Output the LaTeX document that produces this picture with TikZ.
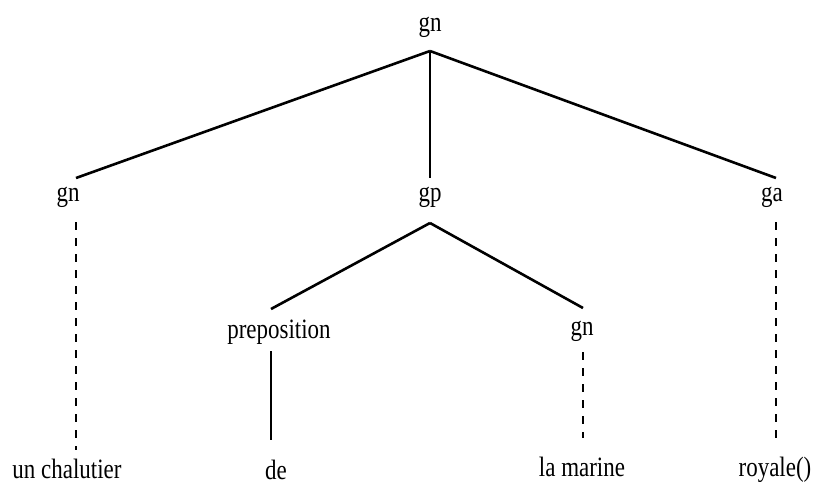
\documentclass[tikz,border=0pt]{standalone}
\usepackage{fontspec}
\newfontfamily\labfont[FakeStretch=0.82]{Liberation Serif}
\begin{document}
\begin{tikzpicture}[x=1pt,y=-1pt,
  lab/.style={font=\labfont\fontsize{28}{30}\selectfont, inner sep=0pt, text height=19pt, text depth=6pt, anchor=base},
  edge/.style={line width=2.6pt},
  thin edge/.style={line width=1.7pt},
  dsh/.style={line width=2.6pt, dash pattern=on 8pt off 8pt}]
\useasboundingbox (0,0) rectangle (813,488);
% nodes
\node[lab, outer ysep=14pt] (top) at (430,31) {gn};
\node[lab, outer ysep=4pt] (gnl) at (68,201) {gn};
\node[lab, outer ysep=4pt, text depth=18pt] (gp) at (430,201) {gp};
\node[lab, outer ysep=4pt] (ga) at (772,201) {ga};
\node[lab, outer ysep=10pt] (prep) at (279,338) {preposition};
\node[lab, outer ysep=8pt] (gnr) at (582,335) {gn};
\node[lab] (w1) at (67,478) {un chalutier};
\node[lab] (w2) at (276,479) {de};
\node[lab] (w3) at (582,476) {la marine};
\node[lab] (w4) at (775,476) {royale()};
% connectors
\draw[edge] (top.south) -- ([xshift=8pt]gnl.north);
\draw[thin edge] (top.south) -- (gp.north);
\draw[edge] (top.south) -- ([xshift=4pt]ga.north);
\draw[edge] (gp.south) -- ([xshift=-8pt]prep.north);
\draw[edge] (gp.south) -- ([xshift=1pt]gnr.north);
\draw[thin edge, shorten <=-3pt] ([xshift=-8pt]prep.south) -- ([xshift=-5pt,yshift=20pt]w2.north);
\draw[dsh, shorten <=11pt, shorten >=9pt] ([xshift=8pt]gnl.south) -- ([xshift=9pt]w1.north);
\draw[dsh, shorten <=3pt, shorten >=19pt] ([xshift=1pt]gnr.south) -- ([xshift=1pt]w3.north);
\draw[dsh, shorten <=11pt, shorten >=19pt] ([xshift=4pt]ga.south) -- ([xshift=1pt]w4.north);
\end{tikzpicture}
\end{document}
